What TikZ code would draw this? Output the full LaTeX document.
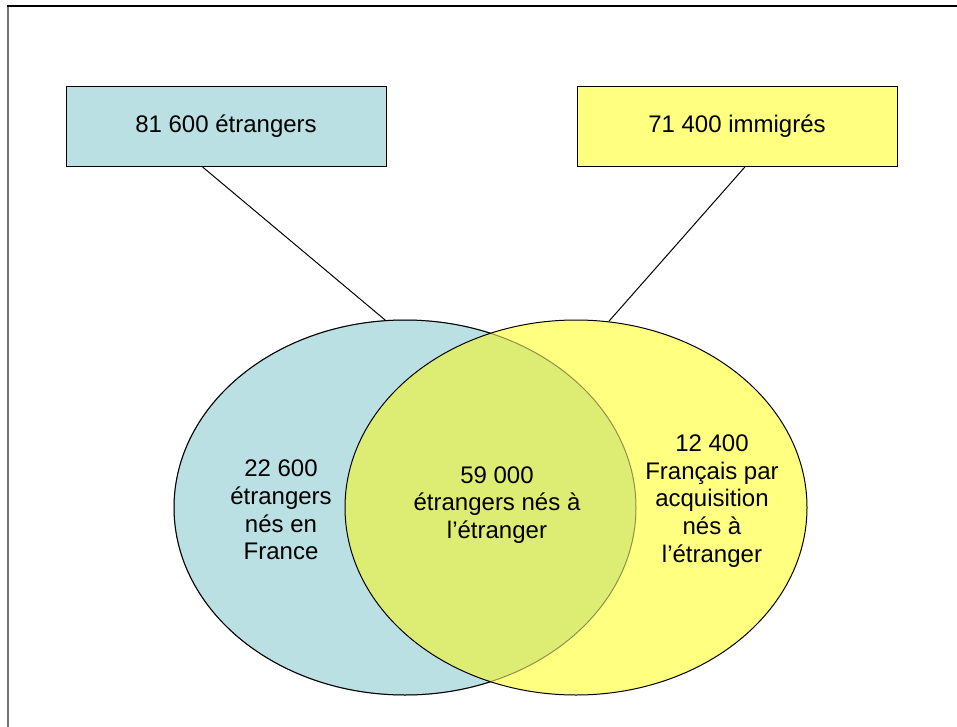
\documentclass[tikz,border=0pt]{standalone}
\usepackage{fontspec}
\setmainfont{Liberation Sans}
\usetikzlibrary{shapes.geometric}

\definecolor{etrblue}{RGB}{186,224,227}
\definecolor{immyellow}{RGB}{255,255,128}
\definecolor{mixgreen}{RGB}{221,237,116}

\begin{document}
\begin{tikzpicture}[x=1pt,y=-1pt,line width=1pt,
  txt/.style={font=\fontsize{24}{27.6}\selectfont,align=center},
  topbox/.style={draw,minimum width=320pt,minimum height=80pt,inner sep=0pt,txt},
  venn/.style={ellipse,minimum width=462pt,minimum height=375pt,inner sep=0pt},
  vennpath/.style={x radius=231pt,y radius=187.5pt}]
  \useasboundingbox (0,0) rectangle (957,727);
  % frame
  \draw[black!55,line width=1.5pt] (8,6) -- (8,727);
  \draw[line width=2pt] (7.25,6) -- (957,6);
  % boxes
  \node[topbox,fill=etrblue] (etr) at (226,126.5) {81 600 étrangers};
  \node[topbox,fill=immyellow] (imm) at (737,126.5) {71 400 immigrés};
  % venn
  \node[venn,draw,fill=etrblue] (cetr) at (405,507.5) {};
  \node[venn,fill=immyellow] (cimm) at (576,507.5) {};
  \begin{scope}
    \clip[vennpath] (cetr.center) ellipse [];
    \fill[mixgreen,vennpath] (cimm.center) ellipse [];
  \end{scope}
  \draw[black,draw opacity=0.4,vennpath] (cetr.center) ellipse [];
  \draw[vennpath] (cimm.center) ellipse [];
  \draw (etr.240) -- (cetr.96);
  \draw (imm.281) -- (cimm.80);
  % labels
  \node[txt] (nfr) at (281,510) {22 600\\étrangers\\nés en\\France};
  \node[txt] (netr) at (497,505) {59 000\\étrangers nés à\\l’étranger};
  \node[txt] (nacq) at (712,501) {12 400\\Français par\\acquisition\\nés à\\l’étranger};
\end{tikzpicture}
\end{document}
